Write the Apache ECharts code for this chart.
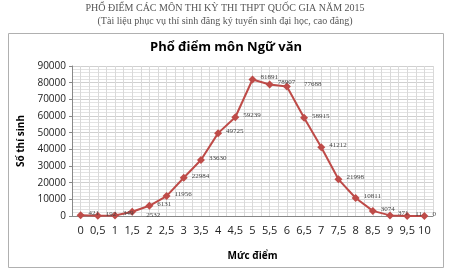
<!DOCTYPE html>
<html><head><meta charset="utf-8">
<script src="https://cdn.jsdelivr.net/npm/echarts@6/dist/echarts.min.js"></script>
<style>html,body{margin:0;padding:0;background:#fff}#c{width:450px;height:278px}</style>
</head><body><div id="c"></div>
<script>
const categories = ['0','0,5','1','1,5','2','2,5','3','3,5','4','4,5','5','5,5','6','6,5','7','7,5','8','8,5','9','9,5','10'];
const counts = [421,192,349,2532,6131,11956,22984,33630,49725,59239,81891,78907,77688,58915,41212,21998,10811,3074,371,11,0];
const yTicks = {min:0, max:90000, interval:10000};
const mainTitle = 'PHỔ ĐIỂM CÁC MÔN THI KỲ THI THPT QUỐC GIA NĂM 2015';
const subTitle = '(Tài liệu phục vụ thí sinh đăng ký tuyển sinh đại học, cao đẳng)';
const chartTitle = 'Phổ điểm môn Ngữ văn';
const xName = 'Mức điểm';
const yName = 'Số thí sinh';

const chart = echarts.init(document.getElementById('c'), null, {renderer:'canvas'});
const red = '#BE4B48';
const labelOffsets = {3:[6,3], 12:[9,-2]};
const data = counts.map((v,i)=>{
  const o = {value:v};
  if (labelOffsets[i]) o.label = {offset: labelOffsets[i]};
  return o;
});
chart.setOption({
  animation:false,
  graphic:[
    {type:'rect', shape:{x:8.5,y:33.5,width:435,height:234}, style:{fill:'none', stroke:'#b0b0b0', lineWidth:1}, z:-1},
    {type:'text', left:'center', top:3, style:{text:mainTitle, font:'10px "Liberation Serif"', fill:'#555'}},
    {type:'text', left:'center', top:16, style:{text:subTitle, font:'10px "Liberation Serif"', fill:'#555'}},
    {type:'text', x:226, y:47, style:{text:chartTitle, font:'bold 13px "Open Sans"', fill:'#000', align:'center', verticalAlign:'middle'}}
  ],
  grid:{left:72, right:17, top:66, bottom:62, containLabel:false},
  xAxis:[
    {type:'category', data:categories, boundaryGap:true,
     axisLine:{lineStyle:{color:'#888'}}, axisTick:{show:false},
     axisLabel:{color:'#222', fontSize:11, fontFamily:'"Open Sans"', margin:9, interval:0},
     splitLine:{show:false},
     name:xName, nameLocation:'middle', nameGap:35,
     nameTextStyle:{fontWeight:'bold', fontSize:10, fontFamily:'"Open Sans"', color:'#000'}},
    {type:'value', min:0, max:42, interval:1, position:'top', show:true,
     axisLine:{show:false}, axisTick:{show:false}, axisLabel:{show:false},
     splitLine:{show:true, lineStyle:{color:'#d9d9d9', width:1}}}
  ],
  yAxis:{type:'value', min:yTicks.min, max:yTicks.max, interval:yTicks.interval,
    axisLine:{show:true, lineStyle:{color:'#888'}}, axisTick:{show:true, length:3, lineStyle:{color:'#888'}},
    axisLabel:{color:'#222', fontSize:10, fontFamily:'"Open Sans"', margin:6, formatter:v=>String(v)},
    splitLine:{show:true, lineStyle:{color:'#d0d0d0'}},
    minorTick:{show:false, splitNumber:5},
    minorSplitLine:{show:true, lineStyle:{color:'#e3e3e3'}},
    name:yName, nameLocation:'middle', nameGap:38, nameRotate:90,
    nameTextStyle:{fontWeight:'bold', fontSize:10, fontFamily:'"Open Sans"', color:'#000'}},
  series:[{
    type:'line', xAxisIndex:0, data:data,
    lineStyle:{color:red, width:2},
    itemStyle:{color:red},
    symbol:'diamond', symbolSize:8,
    label:{show:true, position:'right', distance:4, offset:[0,-2], fontSize:7, fontFamily:'"Liberation Serif"', color:'#444'}
  }]
});
</script></body></html>
